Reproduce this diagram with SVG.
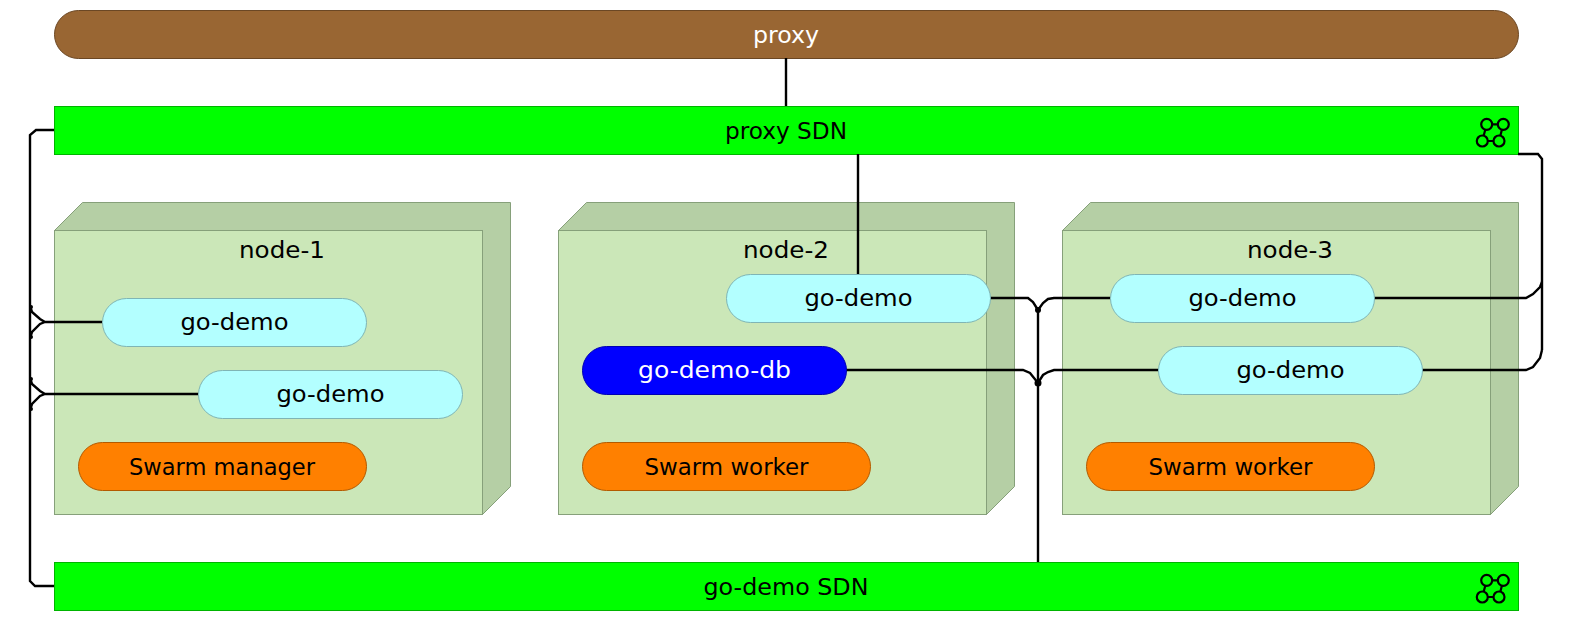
<svg xmlns="http://www.w3.org/2000/svg" width="1574" height="622" viewBox="0 0 1574 622">
<style>
text{font-family:"DejaVu Sans","Liberation Sans",sans-serif;font-size:23.500px;text-anchor:middle;fill:#000}
.w{fill:#fff}
.sdn{fill:#00ff00;stroke:#00b400;stroke-width:1}
.front{fill:#cbe7b8;stroke:#86a07a;stroke-width:1}
.side{fill:#b5cfa5;stroke:#86a07a;stroke-width:1}
.svc{fill:#b3ffff;stroke:#7fb5b5;stroke-width:1}
.swarm{fill:#ff8000;stroke:#b35a00;stroke-width:1}
.c{fill:none;stroke:#000;stroke-width:2.400}
.i{fill:#00ff00;stroke:#000;stroke-width:2.200}
</style>
<defs>
<g id="sdnicon">
<path class="i" d="M-3.300-5.700H13.300L9 11H-7.700Z"/>
<circle class="i" cx="-3.300" cy="-5.700" r="5.500"/><circle class="i" cx="13.300" cy="-5.700" r="5.500"/>
<circle class="i" cx="-7.700" cy="11" r="5.500"/><circle class="i" cx="9" cy="11" r="5.500"/>
</g>
</defs>
<g id="proxy"><rect x="54.500" y="10.500" width="1464" height="48" rx="24" fill="#996633" stroke="#6b4724"/><text class="w" x="786" y="43" textLength="66" lengthAdjust="spacingAndGlyphs">proxy</text></g>
<g id="proxy-sdn"><rect class="sdn" x="54.500" y="106.500" width="1464" height="48"/><text x="786" y="138.500" textLength="122" lengthAdjust="spacingAndGlyphs">proxy SDN</text><use href="#sdnicon" x="1490" y="130"/></g>
<g id="node-1"><path class="side" d="M54.500 230.500L82.500 202.500H510.500V486.500L482.500 514.500V230.500Z"/><rect class="front" x="54.500" y="230.500" width="428" height="284"/><text x="282" y="257.500" textLength="86" lengthAdjust="spacingAndGlyphs">node-1</text></g>
<g id="node-2"><path class="side" d="M558.500 230.500L586.500 202.500H1014.500V486.500L986.500 514.500V230.500Z"/><rect class="front" x="558.500" y="230.500" width="428" height="284"/><text x="786" y="257.500" textLength="86" lengthAdjust="spacingAndGlyphs">node-2</text></g>
<g id="node-3"><path class="side" d="M1062.500 230.500L1090.500 202.500H1518.500V486.500L1490.500 514.500V230.500Z"/><rect class="front" x="1062.500" y="230.500" width="428" height="284"/><text x="1290" y="257.500" textLength="86" lengthAdjust="spacingAndGlyphs">node-3</text></g>
<g id="connectors">
<path class="c" d="M786 58V106"/>
<path class="c" d="M858 154V274"/>
<path class="c" d="M54 130H36L30 135V581L35 586H54"/>
<path class="c" d="M102 322H45L40 319L32 312L30 306M45 322L40 324L32 332L30 338"/>
<path class="c" d="M198 394H45L40 391L32 384L30 378M45 394L40 396L32 404L30 410"/>
<path class="c" d="M1038 562V310"/>
<path class="c" d="M990 298H1028L1033 302L1038 310L1043 303L1048 299L1054 298H1110"/>
<path class="c" d="M846 370H1023L1030 373L1038 383L1043 375L1048 372L1054 370H1158"/>
<path class="c" d="M1518 154H1538L1542 159V350"/>
<path class="c" d="M1374 298H1526L1533 294L1540 287L1542 282"/>
<path class="c" d="M1422 370H1526L1533 367L1540 358L1542 350"/>
<circle cx="1038" cy="383" r="3.500"/>
<circle cx="1038" cy="310" r="3"/>
<circle cx="31" cy="307" r="2"/><circle cx="31" cy="337" r="2"/>
<circle cx="31" cy="379" r="2"/><circle cx="31" cy="409" r="2"/>
</g>
<g id="go-demo-1"><rect class="svc" x="102.500" y="298.500" width="264" height="48" rx="24"/><text x="234.500" y="330" textLength="108" lengthAdjust="spacingAndGlyphs">go-demo</text></g>
<g id="go-demo-2"><rect class="svc" x="198.500" y="370.500" width="264" height="48" rx="24"/><text x="330.500" y="402" textLength="108" lengthAdjust="spacingAndGlyphs">go-demo</text></g>
<g id="swarm-manager"><rect class="swarm" x="78.500" y="442.500" width="288" height="48" rx="24"/><text x="222" y="474.500" textLength="186" lengthAdjust="spacingAndGlyphs">Swarm manager</text></g>
<g id="go-demo-3"><rect class="svc" x="726.500" y="274.500" width="264" height="48" rx="24"/><text x="858.500" y="306" textLength="108" lengthAdjust="spacingAndGlyphs">go-demo</text></g>
<g id="go-demo-db"><rect x="582.500" y="346.500" width="264" height="48" rx="24" fill="#0000ff" stroke="#0000b3"/><text class="w" x="714.500" y="378" textLength="153" lengthAdjust="spacingAndGlyphs">go-demo-db</text></g>
<g id="swarm-worker-2"><rect class="swarm" x="582.500" y="442.500" width="288" height="48" rx="24"/><text x="726.500" y="474.500" textLength="164" lengthAdjust="spacingAndGlyphs">Swarm worker</text></g>
<g id="go-demo-4"><rect class="svc" x="1110.500" y="274.500" width="264" height="48" rx="24"/><text x="1242.500" y="306" textLength="108" lengthAdjust="spacingAndGlyphs">go-demo</text></g>
<g id="go-demo-5"><rect class="svc" x="1158.500" y="346.500" width="264" height="48" rx="24"/><text x="1290.500" y="378" textLength="108" lengthAdjust="spacingAndGlyphs">go-demo</text></g>
<g id="swarm-worker-3"><rect class="swarm" x="1086.500" y="442.500" width="288" height="48" rx="24"/><text x="1230.500" y="474.500" textLength="164" lengthAdjust="spacingAndGlyphs">Swarm worker</text></g>
<g id="go-demo-sdn"><rect class="sdn" x="54.500" y="562.500" width="1464" height="48"/><text x="786" y="594.500" textLength="165" lengthAdjust="spacingAndGlyphs">go-demo SDN</text><use href="#sdnicon" x="1490" y="586"/></g>
</svg>
